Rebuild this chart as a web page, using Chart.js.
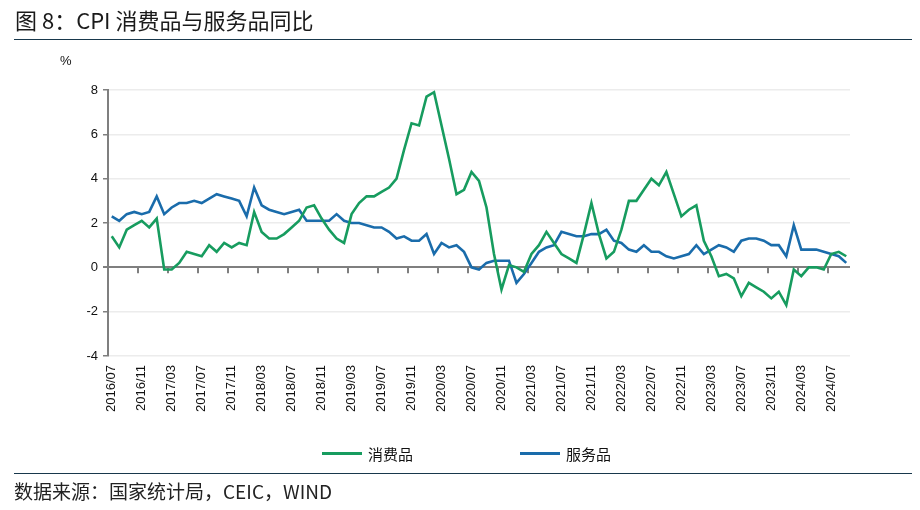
<!DOCTYPE html>
<html>
<head>
<meta charset="utf-8">
<script src="https://cdn.jsdelivr.net/npm/chart.js@4.4.1/dist/chart.umd.min.js"></script>
<style>
body { margin: 0; background: #fff; }
#wrap { position: relative; width: 920px; height: 510px; overflow: hidden; font-family: "Noto Sans CJK SC", sans-serif; }
#chart { position: absolute; left: 0; top: 0; }
#title { position: absolute; left: 15px; top: 3px; font-size: 22px; color: #1a1a1a; white-space: nowrap; }
.rule { position: absolute; left: 14px; width: 898px; height: 0; border-top: 1.5px solid #18384c; }
#unit { position: absolute; left: 60px; top: 53px; font: 13px "Liberation Sans", sans-serif; color: #111; }
.leg { position: absolute; top: 443px; font-size: 15px; color: #111; white-space: nowrap; }
.leg i { display: inline-block; width: 40px; height: 3px; vertical-align: middle; margin-right: 6px; position: relative; top: -2px; }
#source { position: absolute; left: 14px; top: 477px; font-size: 19px; color: #222; white-space: nowrap; }
</style>
</head>
<body>
<div id="wrap">
  <canvas id="chart" width="920" height="510"></canvas>
  <div id="title">图 8：CPI 消费品与服务品同比</div>
  <div class="rule" style="top:39px"></div>
  <div id="unit">%</div>
  <div class="leg" style="left:322px"><i style="background:#179c5f"></i>消费品</div>
  <div class="leg" style="left:520px"><i style="background:#1a6cab"></i>服务品</div>
  <div class="rule" style="top:473px"></div>
  <div id="source">数据来源：国家统计局，CEIC，WIND</div>
</div>
<script>
// 月份：2016/07 - 2024/09
const months = [];
for (let y = 2016, m = 7; y < 2024 || (y === 2024 && m <= 9); m++) {
    if (m > 12) { m = 1; y++; }
    months.push(y + '/' + String(m).padStart(2, '0'));
}

// 消费品 CPI 同比 (%)
const goods = [
    1.4, 0.9, 1.7, 1.9, 2.1, 1.8, 2.2, -0.1, -0.1, 0.2,
    0.7, 0.6, 0.5, 1.0, 0.7, 1.1, 0.9, 1.1, 1.0, 2.5,
    1.6, 1.3, 1.3, 1.5, 1.8, 2.1, 2.7, 2.8, 2.2, 1.7,
    1.3, 1.1, 2.4, 2.9, 3.2, 3.2, 3.4, 3.6, 4.0, 5.3,
    6.5, 6.4, 7.7, 7.9, 6.4, 4.9, 3.3, 3.5, 4.3, 3.9,
    2.7, 0.6, -1.0, 0.1, 0.0, -0.2, 0.6, 1.0, 1.6, 1.1,
    0.6, 0.4, 0.2, 1.5, 2.9, 1.5, 0.4, 0.7, 1.7, 3.0,
    3.0, 3.5, 4.0, 3.7, 4.3, 3.3, 2.3, 2.6, 2.8, 1.2,
    0.5, -0.4, -0.3, -0.5, -1.3, -0.7, -0.9, -1.1, -1.4, -1.1,
    -1.7, -0.1, -0.4, 0.0, 0.0, -0.1, 0.6, 0.7, 0.5
];

// 服务品 CPI 同比 (%)
const services = [
    2.3, 2.1, 2.4, 2.5, 2.4, 2.5, 3.2, 2.4, 2.7, 2.9,
    2.9, 3.0, 2.9, 3.1, 3.3, 3.2, 3.1, 3.0, 2.3, 3.6,
    2.8, 2.6, 2.5, 2.4, 2.5, 2.6, 2.1, 2.1, 2.1, 2.1,
    2.4, 2.1, 2.0, 2.0, 1.9, 1.8, 1.8, 1.6, 1.3, 1.4,
    1.2, 1.2, 1.5, 0.6, 1.1, 0.9, 1.0, 0.7, 0.0, -0.1,
    0.2, 0.3, 0.3, 0.3, -0.7, -0.3, 0.2, 0.7, 0.9, 1.0,
    1.6, 1.5, 1.4, 1.4, 1.5, 1.5, 1.7, 1.2, 1.1, 0.8,
    0.7, 1.0, 0.7, 0.7, 0.5, 0.4, 0.5, 0.6, 1.0, 0.6,
    0.8, 1.0, 0.9, 0.7, 1.2, 1.3, 1.3, 1.2, 1.0, 1.0,
    0.5, 1.9, 0.8, 0.8, 0.8, 0.7, 0.6, 0.5, 0.2
];

const labelEvery = 4;
const yMin = -4, yMax = 8, yStep = 2;

// 零轴上的刻度线（每 4 个月一根，位于类别边界）
const zeroTicks = {
    id: 'zeroTicks',
    beforeDatasetsDraw(chart) {
        const x = chart.scales.x, y = chart.scales.y, ctx = chart.ctx;
        const y0 = y.getPixelForValue(0);
        const half = (x.getPixelForValue(1) - x.getPixelForValue(0)) / 2;
        ctx.save();
        ctx.strokeStyle = '#7f7f7f';
        ctx.lineWidth = 2;
        months.forEach((m, i) => {
            if (i % labelEvery) return;
            const px = Math.round(x.getPixelForValue(i) - half);
            ctx.beginPath();
            ctx.moveTo(px, y0);
            ctx.lineTo(px, y0 + 6);
            ctx.stroke();
        });
        ctx.restore();
    }
};

Chart.defaults.font.family = "'Liberation Sans', Arial, sans-serif";

new Chart(document.getElementById('chart'), {
    type: 'line',
    data: {
        labels: months,
        datasets: [
            { label: '消费品', data: goods, borderColor: '#179c5f', backgroundColor: '#179c5f' },
            { label: '服务品', data: services, borderColor: '#1a6cab', backgroundColor: '#1a6cab' }
        ]
    },
    options: {
        responsive: false,
        animation: false,
        layout: { padding: { left: 0, right: 70, top: 90, bottom: 74 } },
        elements: { point: { radius: 0 }, line: { borderWidth: 2.6, tension: 0 } },
        plugins: { legend: { display: false }, tooltip: { enabled: false } },
        scales: {
            x: {
                offset: true,
                grid: { display: false, drawTicks: false },
                border: { display: false },
                ticks: {
                    autoSkip: false, minRotation: 90, maxRotation: 90, padding: 9,
                    color: '#111', font: { size: 13 },
                    callback: (v, i) => i % labelEvery === 0 ? months[i] : ''
                },
                afterFit: s => { s.height = 80; }
            },
            y: {
                min: yMin, max: yMax,
                ticks: { stepSize: yStep, padding: 5, color: '#111', font: { size: 13 } },
                grid: {
                    color: c => c.tick.value === 0 ? '#7f7f7f' : '#ececec',
                    lineWidth: c => c.tick.value === 0 ? 2 : 1.5,
                    tickLength: 5,
                    tickColor: '#7f7f7f'
                },
                border: { color: '#7f7f7f', width: 2 },
                afterFit: s => { s.width = 108; }
            }
        }
    },
    plugins: [zeroTicks]
});
</script>
</body>
</html>
